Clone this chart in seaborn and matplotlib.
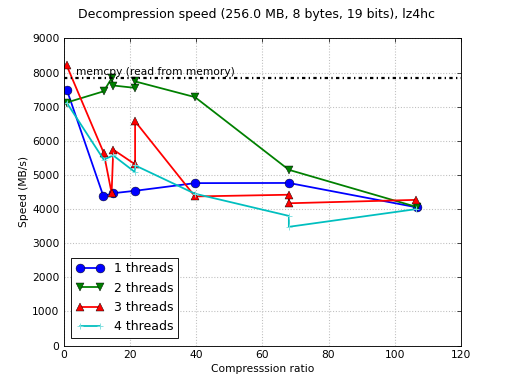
import matplotlib
matplotlib.use("Agg")
import matplotlib.pyplot as plt
import seaborn as sns
import pandas as pd

# compression ratio / speed (MB/s) per thread count
ratio_1 = [0.9, 11.9, 14.9, 21.5, 39.6, 68.0, 106.7]
speed_1 = [7480, 4380, 4465, 4535, 4760, 4765, 4050]

ratio_2 = [0.8, 12.0, 14.4, 14.9, 21.5, 21.5, 39.6, 68.0, 106.7]
speed_2 = [7120, 7450, 7830, 7620, 7550, 7740, 7280, 5150, 4060]

ratio_3 = [0.8, 12.0, 14.4, 14.9, 21.5, 21.5, 39.6, 68.0, 68.0, 106.6]
speed_3 = [8210, 5650, 4470, 5740, 5310, 6570, 4370, 4420, 4170, 4270]

ratio_4 = [0.8, 12.0, 14.9, 21.5, 21.5, 39.6, 68.0, 68.0, 106.6]
speed_4 = [7120, 5450, 5570, 5080, 5280, 4450, 3800, 3480, 4000]

memcpy_speed = 7850
memcpy_label = "memcpy (read from memory)"

series = [
    ("1 threads", ratio_1, speed_1, "b", "o"),
    ("2 threads", ratio_2, speed_2, "g", "v"),
    ("3 threads", ratio_3, speed_3, "r", "^"),
    ("4 threads", ratio_4, speed_4, "c", "+"),
]

sns.set_style("white")
plt.rcParams['font.family'] = ['DejaVu Sans']
plt.rcParams['font.size'] = 12
for k in ['text.color', 'axes.labelcolor', 'xtick.color', 'ytick.color']:
    plt.rcParams[k] = 'k'

fig = plt.figure(figsize=(8, 6), dpi=64)
ax = fig.add_axes([0.125, 0.1, 0.775, 0.8])

for name, xs, ys, col, mk in series:
    df = pd.DataFrame({"ratio": xs, "speed": ys})
    if mk == "+":
        kw = dict(markersize=7, markeredgecolor="#7fdfdf", markeredgewidth=1)
    else:
        kw = dict(markersize=10, markeredgecolor="k", markeredgewidth=0.5)
    sns.lineplot(data=df, x="ratio", y="speed", sort=False, estimator=None,
                 color=col, marker=mk, linewidth=2, label=name, ax=ax, **kw)

ax.axhline(memcpy_speed, color="k", linestyle=(0, (1.5, 1.5, 0.6, 1.5)), linewidth=2.5)
ax.text(3.6, memcpy_speed + 30, memcpy_label, fontsize=12, va="bottom")

ax.set_xlim(0, 120)
ax.set_ylim(0, 9000)
ax.set_xticks(range(0, 121, 20))
ax.set_yticks(range(0, 9001, 1000))
ax.grid(True, color="0.75", linestyle=":", linewidth=1.2)
ax.tick_params(direction="in", length=4, top=True, right=True, labelsize=12, pad=5)
for sp in ax.spines.values():
    sp.set_color("k")
    sp.set_linewidth(1)
ax.set_xlabel("Compresssion ratio", fontsize=12)
ax.set_ylabel("Speed (MB/s)", fontsize=12)
fig.suptitle("Decompression speed (256.0 MB, 8 bytes, 19 bits), lz4hc", fontsize=14, y=0.98)

leg = ax.legend(loc="lower left", numpoints=2, fancybox=False, framealpha=1,
                edgecolor="k", fontsize=14, handlelength=2.2, borderaxespad=0.6)
leg.get_frame().set_linewidth(1)

fig.savefig("out.png", dpi=64)
